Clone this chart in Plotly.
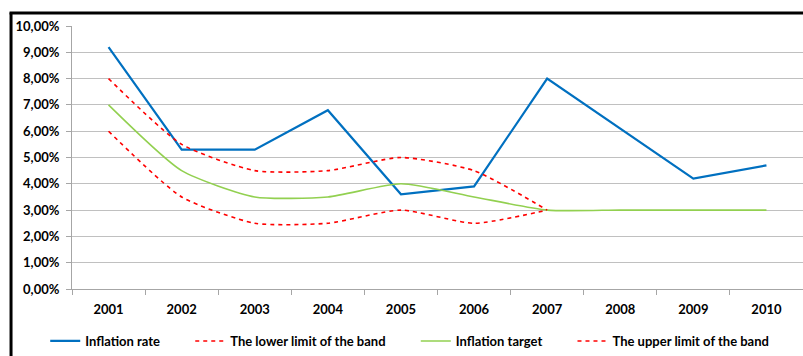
import plotly.graph_objects as go

years = ["2001", "2002", "2003", "2004", "2005", "2006", "2007", "2008", "2009", "2010"]
inflation_rate = [9.2, 5.3, 5.3, 6.8, 3.6, 3.9, 8.0, 6.1, 4.2, 4.7]
lower_limit = [6.0, 3.5, 2.5, 2.5, 3.0, 2.5, 3.0, None, None, None]
inflation_target = [7.0, 4.5, 3.5, 3.5, 4.0, 3.5, 3.0, 3.0, 3.0, 3.0]
upper_limit = [8.0, 5.5, 4.5, 4.5, 5.0, 4.5, 3.0, None, None, None]
y_ticks = [0, 1, 2, 3, 4, 5, 6, 7, 8, 9, 10]
y_tick_text = ["0,00%", "1,00%", "2,00%", "3,00%", "4,00%", "5,00%",
               "6,00%", "7,00%", "8,00%", "9,00%", "10,00%"]

FONT = "Lato"
PAD = "\u00a0" * 8

fig = go.Figure()
fig.add_trace(go.Scatter(x=years, y=inflation_rate, name="Inflation rate" + PAD, mode="lines",
                         line=dict(color="#0070C0", width=2.2)))
fig.add_trace(go.Scatter(x=years, y=lower_limit, name="The lower limit of the band" + PAD, mode="lines",
                         line=dict(color="#FF0000", width=1.6, dash="4px,4px", shape="spline", smoothing=0.6)))
fig.add_trace(go.Scatter(x=years, y=inflation_target, name="Inflation target" + PAD, mode="lines",
                         line=dict(color="#92D050", width=1.6, shape="spline", smoothing=0.6)))
fig.add_trace(go.Scatter(x=years, y=upper_limit, name="The upper limit of the band", mode="lines",
                         line=dict(color="#FF0000", width=1.6, dash="4px,4px", shape="spline", smoothing=0.6)))

fig.update_layout(
    width=803, height=356,
    margin=dict(l=72, r=0, t=26, b=67),
    paper_bgcolor="white", plot_bgcolor="white",
    font=dict(family=FONT, size=13, color="#000000"),
    showlegend=True,
    legend=dict(orientation="h", x=0.462, xanchor="center", y=-0.2548, yanchor="bottom",
                font=dict(family=FONT, size=13, color="#000000", weight="bold"),
                itemwidth=30, tracegroupgap=0),
    shapes=[
        dict(type="line", xref="paper", yref="paper", x0=-0.0834, x1=-0.0834, y0=-0.3, y1=1.051,
             line=dict(color="black", width=3)),
        dict(type="line", xref="paper", yref="paper", x0=-0.0854, x1=1.05, y0=1.049, y1=1.049,
             line=dict(color="black", width=3)),
    ],
)
fig.update_xaxes(type="category", range=[-0.5, 9.5], tickson="boundaries", ticks="outside", ticklen=5,
                 tickcolor="#A6A6A6", ticklabelstandoff=8,
                 showline=True, linecolor="#A6A6A6", linewidth=1, showgrid=False,
                 tickfont=dict(family=FONT, size=13, color="#000000", weight="bold"))
fig.update_yaxes(range=[0, 10], tickmode="array", tickvals=y_ticks, ticktext=y_tick_text,
                 ticks="outside", ticklen=5, tickcolor="#A6A6A6", ticklabelstandoff=4,
                 showline=True, linecolor="#A6A6A6", linewidth=1,
                 showgrid=True, gridcolor="#C0C0C0", gridwidth=1.3, zeroline=False,
                 tickfont=dict(family=FONT, size=13, color="#000000", weight="bold"))

fig.write_html("out.html")
